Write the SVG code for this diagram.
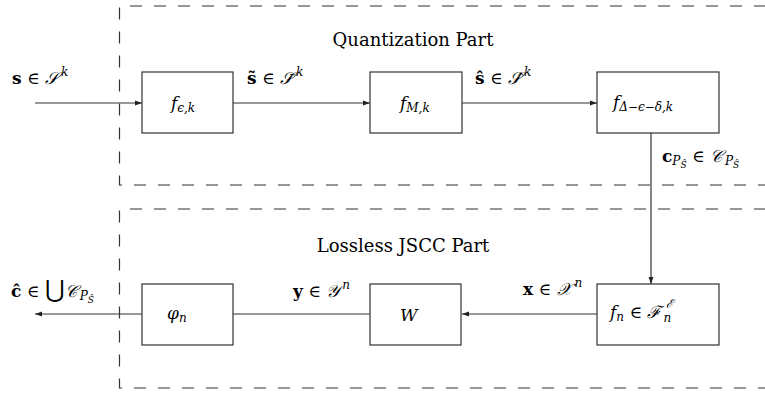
<svg xmlns="http://www.w3.org/2000/svg" width="765" height="397" viewBox="0 0 765 397">
<style>
text{font-family:"DejaVu Serif","Liberation Serif",serif;font-size:17px;fill:#000}
.lbl{font-size:18px}
.i{font-style:italic}
.b{font-weight:bold}
.sub{font-size:12px}
.ss{font-size:9px}
.box{fill:#fff;stroke:#333;stroke-width:1.2}
.dash{fill:none;stroke:#333;stroke-width:1.2;stroke-dasharray:12 12}
.ln{fill:none;stroke:#333;stroke-width:1.2}
</style>
<defs>
<marker id="ar" viewBox="0 0 10 10" refX="10" refY="5" markerWidth="7" markerHeight="7" orient="auto-start-reverse" markerUnits="userSpaceOnUse">
<path d="M0,1.5 L10,5 L0,8.5 Z" fill="#222"/>
</marker>
</defs>
<g id="regions">
<path class="dash" d="M790,6 H119.5 V185 H790"/>
<path class="dash" d="M790,209 H119.5 V388 H790"/>
<text class="lbl" x="413" y="46" text-anchor="middle">Quantization Part</text>
<text class="lbl" x="403" y="252" text-anchor="middle">Lossless JSCC Part</text>
</g>
<g id="connectors">
<line class="ln" x1="35" y1="103" x2="142" y2="103" marker-end="url(#ar)"/>
<line class="ln" x1="233" y1="103" x2="370" y2="103" marker-end="url(#ar)"/>
<line class="ln" x1="462" y1="103" x2="597" y2="103" marker-end="url(#ar)"/>
<line class="ln" x1="651" y1="133" x2="651" y2="284" marker-end="url(#ar)"/>
<line class="ln" x1="597" y1="314" x2="462" y2="314" marker-end="url(#ar)"/>
<line class="ln" x1="370" y1="314" x2="233" y2="314"/>
<line class="ln" x1="142" y1="314" x2="35" y2="314" marker-end="url(#ar)"/>
<text x="12" y="84"><tspan class="b">s</tspan> ∈ <tspan class="i">𝒮</tspan><tspan class="i sub" dx="3" dy="-8">k</tspan></text>
<text x="247" y="84"><tspan class="b">s̃</tspan> ∈ <tspan class="i">𝒮̃</tspan><tspan class="i sub" dx="3" dy="-8">k</tspan></text>
<text x="475" y="84"><tspan class="b">ŝ</tspan> ∈ <tspan class="i">𝒮̂</tspan><tspan class="i sub" dx="3" dy="-8">k</tspan></text>
<text x="662" y="162"><tspan class="b">c</tspan><tspan class="i sub" dy="3">P</tspan><tspan class="i ss" dy="3">Ŝ</tspan><tspan dy="-6"> ∈ </tspan><tspan class="i">𝒞</tspan><tspan class="i sub" dx="3" dy="3">P</tspan><tspan class="i ss" dy="3">Ŝ</tspan></text>
<text x="523" y="295"><tspan class="b">x</tspan> ∈ <tspan class="i">𝒳</tspan><tspan class="i sub" dx="3" dy="-8">n</tspan></text>
<text x="293" y="297"><tspan class="b">y</tspan> ∈ <tspan class="i">𝒴</tspan><tspan class="i sub" dx="3" dy="-8">n</tspan></text>
<text x="11" y="297"><tspan class="b">ĉ</tspan> ∈ <tspan font-size="24">⋃</tspan><tspan class="i">𝒞</tspan><tspan class="i sub" dx="3" dy="3">P</tspan><tspan class="i ss" dy="3">Ŝ</tspan></text>
</g>
<g id="f_eps">
<rect class="box" x="142" y="72" width="91" height="61"/>
<text x="171" y="109" class="i">f<tspan class="sub" dy="3">ϵ,k</tspan></text>
</g>
<g id="f_M">
<rect class="box" x="370" y="72" width="92" height="61"/>
<text x="400" y="109" class="i">f<tspan class="sub" dy="3">M,k</tspan></text>
</g>
<g id="f_delta">
<rect class="box" x="597" y="72" width="122" height="61"/>
<text x="613" y="108" class="i">f<tspan class="sub" dy="3">Δ−ϵ−δ,k</tspan></text>
</g>
<g id="phi">
<rect class="box" x="142" y="284" width="91" height="61"/>
<text x="167" y="319" class="i">φ<tspan class="sub" dy="3">n</tspan></text>
</g>
<g id="W">
<rect class="box" x="370" y="284" width="91" height="61"/>
<text x="400" y="321" class="i">W</text>
</g>
<g id="f_n">
<rect class="box" x="597" y="284" width="122" height="61"/>
<text x="610" y="318"><tspan class="i">f</tspan><tspan class="i sub" dy="3">n</tspan><tspan dy="-3"> ∈ </tspan><tspan class="i">ℱ</tspan><tspan class="i sub" dx="2" dy="4">n</tspan><tspan class="i sub" dx="-5" dy="-14">ℰ</tspan></text>
</g>
</svg>
